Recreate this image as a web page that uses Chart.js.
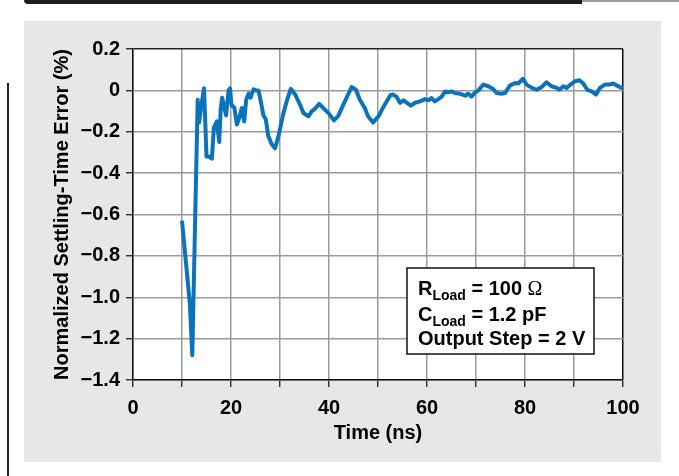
<!DOCTYPE html>
<html>
<head>
<meta charset="utf-8">
<script src="https://cdn.jsdelivr.net/npm/chart.js@4.4.1/dist/chart.umd.min.js"></script>
<style>
  html, body { margin: 0; padding: 0; background: #fff; }
  #wrap { position: relative; width: 679px; height: 476px; overflow: hidden; }
  .top-bar { position: absolute; left: 24px; top: 0; width: 558px; height: 4px; background: #1e1e1e; border-bottom-left-radius: 4px; }
  .top-bar-end { position: absolute; left: 582px; top: 0; width: 97px; height: 2px; background: #9a9a9a; }
  .side-rule { position: absolute; left: 7px; top: 83px; width: 1.5px; height: 393px; background: #222; }
  .panel { position: absolute; left: 24px; top: 21px; width: 637px; height: 441px; background: #e6e7e8; }
  #chart { position: absolute; left: 0; top: 0; }
</style>
</head>
<body>
<div id="wrap">
  <div class="top-bar"></div>
  <div class="top-bar-end"></div>
  <div class="side-rule"></div>
  <div class="panel"></div>
  <canvas id="chart" width="679" height="476"></canvas>
</div>
<script>
// time axis (ns) and normalized settling-time error (%)
const timeNs = [
  10.0, 11.6, 12.1, 13.2, 13.5, 13.9, 14.5, 15.0, 15.5, 16.1,
  16.5, 17.1, 17.6, 17.9, 18.2, 18.6, 19.0, 19.5, 19.8, 20.1,
  20.7, 21.2, 21.6, 22.2, 22.7, 23.1, 23.6, 24.0, 24.6, 25.1,
  25.6, 26.1, 26.6, 27.1, 27.6, 28.3, 29.0, 29.7, 30.7, 31.4,
  32.2, 33.1, 34.1, 34.8, 35.8, 36.5, 37.1, 38.0, 38.8, 39.9,
  41.0, 41.9, 42.9, 43.9, 44.6, 45.5, 46.3, 47.3, 48.0, 49.0,
  50.1, 51.1, 52.1, 52.6, 53.1, 53.8, 54.5, 55.2, 55.9, 56.7,
  57.6, 58.6, 59.6, 60.3, 60.9, 61.6, 62.3, 63.0, 63.7, 64.3,
  65.0, 65.7, 66.7, 67.8, 68.4, 69.1, 69.8, 70.5, 71.5, 72.5,
  73.5, 74.2, 75.2, 75.9, 76.9, 78.0, 78.6, 79.6, 80.3, 81.4,
  82.4, 83.4, 84.4, 85.4, 86.5, 87.0, 87.8, 88.5, 89.3, 90.2,
  91.1, 91.9, 92.7, 93.6, 94.5, 95.3, 96.3, 97.2, 98.0, 98.8,
  99.7, 100.0
];
const errorPct = [
  -0.63, -1.03, -1.28, -0.045, -0.155, -0.08, 0.01, -0.32, -0.32, -0.33,
  -0.18, -0.15, -0.25, -0.09, -0.035, -0.08, -0.12, 0.0, 0.01, -0.07,
  -0.085, -0.165, -0.14, -0.085, -0.15, -0.045, -0.015, -0.035, 0.005, 0.0,
  0.0, -0.055, -0.12, -0.14, -0.22, -0.26, -0.28, -0.22, -0.11, -0.05,
  0.007, -0.02, -0.07, -0.11, -0.126, -0.10, -0.09, -0.065, -0.085, -0.11,
  -0.145, -0.123, -0.07, -0.02, 0.016, 0.003, -0.045, -0.085, -0.126, -0.155,
  -0.126, -0.08, -0.04, -0.022, -0.02, -0.032, -0.06, -0.048, -0.06, -0.074,
  -0.06, -0.053, -0.042, -0.048, -0.037, -0.053, -0.042, -0.03, -0.005, -0.01,
  -0.005, -0.013, -0.016, -0.026, -0.016, -0.03, -0.01, 0.0, 0.028, 0.02,
  0.007, -0.013, -0.016, -0.013, 0.023, 0.036, 0.033, 0.056, 0.028, 0.012,
  0.003, 0.016, 0.039, 0.02, 0.012, 0.003, 0.02, 0.012, 0.028, 0.044,
  0.049, 0.033, 0.003, -0.005, -0.02, 0.012, 0.028, 0.028, 0.033, 0.023,
  0.012, 0.01
];

const xTicks = [0, 10, 20, 30, 40, 50, 60, 70, 80, 90, 100];
const yTicks = [0.2, 0, -0.2, -0.4, -0.6, -0.8, -1.0, -1.2, -1.4];
const noteLines = [
  { main: 'R', sub: 'Load', rest: ' = 100 ', symbol: 'Ω' },
  { main: 'C', sub: 'Load', rest: ' = 1.2 pF', symbol: '' },
  { main: 'Output Step = 2 V', sub: '', rest: '', symbol: '' }
];

const FONT = '"Liberation Sans", Arial, Helvetica, sans-serif';
const GRID = '#9b9b9b';

function fmtY(v) {
  if (Math.abs(v) < 1e-9) return '0';
  const s = Math.abs(v).toFixed(1);
  return v < 0 ? '\u2212' + s : s;
}

const plotBackground = {
  id: 'plotBackground',
  beforeDraw(chart) {
    const { ctx, chartArea: a } = chart;
    ctx.save();
    ctx.fillStyle = '#fff';
    ctx.fillRect(a.left, a.top, a.right - a.left, a.bottom - a.top);
    ctx.restore();
  }
};

const noteBox = {
  id: 'noteBox',
  afterDraw(chart) {
    const { ctx } = chart;
    const box = { x: 407, y: 268, w: 187, h: 86 };
    ctx.save();
    ctx.fillStyle = '#fff';
    ctx.fillRect(box.x, box.y, box.w, box.h);
    ctx.strokeStyle = '#111';
    ctx.lineWidth = 1.5;
    ctx.strokeRect(box.x, box.y, box.w, box.h);
    ctx.fillStyle = '#000';
    ctx.textBaseline = 'alphabetic';
    const baselines = [295, 321, 345];
    noteLines.forEach((line, i) => {
      let x = box.x + 11;
      const y = baselines[i];
      ctx.font = `bold 20px ${FONT}`;
      ctx.fillText(line.main, x, y);
      x += ctx.measureText(line.main).width;
      if (line.sub) {
        ctx.font = `bold 14px ${FONT}`;
        ctx.fillText(line.sub, x, y + 5);
        x += ctx.measureText(line.sub).width;
      }
      if (line.rest) {
        ctx.font = `bold 20px ${FONT}`;
        ctx.fillText(line.rest, x, y);
        x += ctx.measureText(line.rest).width;
      }
      if (line.symbol) {
        ctx.font = `20px "Liberation Serif", "Times New Roman", serif`;
        ctx.fillText(line.symbol, x, y);
      }
    });
    ctx.restore();
  }
};

new Chart(document.getElementById('chart'), {
  type: 'line',
  data: {
    datasets: [{
      data: timeNs.map((t, i) => ({ x: t, y: errorPct[i] })),
      borderColor: '#0a73bb',
      borderWidth: 4,
      pointRadius: 0,
      tension: 0,
      borderJoinStyle: 'round',
      fill: false
    }]
  },
  options: {
    responsive: false,
    animation: false,
    devicePixelRatio: 1,
    layout: { padding: { left: 0, right: 56, top: 49, bottom: 31 } },
    plugins: { legend: { display: false }, tooltip: { enabled: false } },
    scales: {
      x: {
        type: 'linear',
        min: 0,
        max: 100,
        afterBuildTicks: axis => { axis.ticks = xTicks.map(v => ({ value: v })); },
        afterFit: axis => { axis.height = 65; },
        ticks: {
          autoSkip: false,
          maxRotation: 0,
          padding: 9,
          color: '#000',
          font: { family: FONT, size: 20, weight: 'bold' },
          callback: v => (v % 20 === 0 ? String(v) : '')
        },
        grid: {
          color: ctx => (ctx.tick && ctx.tick.value === 100 ? '#111' : GRID),
          lineWidth: 1.5,
          tickLength: 7,
          tickColor: '#111',
          tickWidth: 1.2
        },
        border: { color: '#111', width: 1.5 },
        title: {
          display: true,
          text: 'Time (ns)',
          color: '#000',
          font: { family: FONT, size: 20, weight: 'bold' },
          padding: { top: 0, bottom: 0 }
        }
      },
      y: {
        min: -1.4,
        max: 0.2,
        afterBuildTicks: axis => { axis.ticks = yTicks.map(v => ({ value: v })); },
        afterFit: axis => { axis.width = 133; },
        ticks: {
          padding: 6,
          color: '#000',
          font: { family: FONT, size: 20, weight: 'bold' },
          callback: v => fmtY(v)
        },
        grid: {
          color: ctx => (ctx.tick && Math.abs(ctx.tick.value - 0.2) < 1e-6 ? '#222' : GRID),
          lineWidth: 1.5,
          tickLength: 7,
          tickColor: '#111',
          tickWidth: 1.2
        },
        border: { color: '#111', width: 1.5 },
        title: {
          display: true,
          text: 'Normalized Settling-Time Error (%)',
          color: '#000',
          font: { family: FONT, size: 20, weight: 'bold' },
          padding: { top: 50, bottom: 0 }
        }
      }
    }
  },
  plugins: [plotBackground, noteBox]
});
</script>
</body>
</html>
